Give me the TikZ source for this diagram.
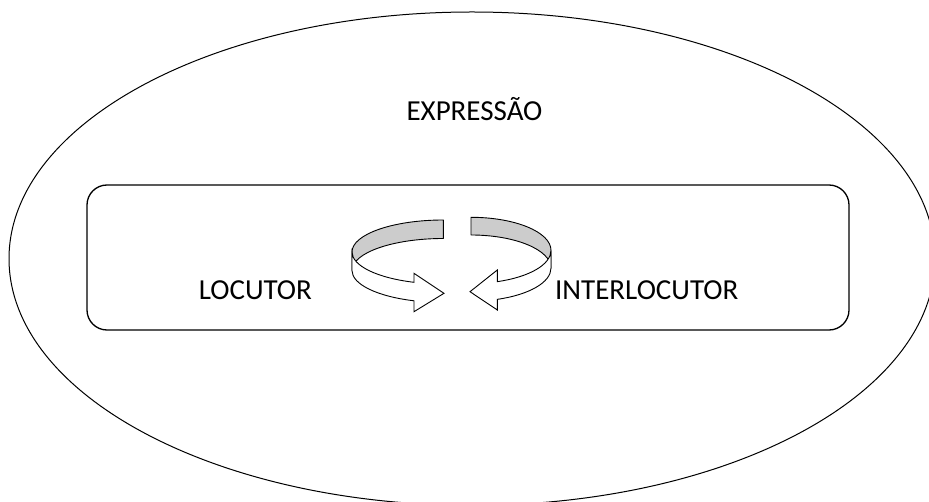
\documentclass[tikz,border=0pt]{standalone}
\usepackage{fontspec}
\setmainfont{Carlito}
\begin{document}
\begin{tikzpicture}[x=1pt,y=1pt,
  lbl/.style={anchor=base,inner sep=0pt,font=\fontsize{29}{33}\selectfont},
  ribbonback/.style={draw=black,fill=black!20,line width=0.9pt,line join=round},
  ribbonfront/.style={draw=black,fill=white,line width=0.9pt,line join=miter}]
\useasboundingbox (0,0) rectangle (929,501);
\clip (0,0) rectangle (929,501);
% outer ellipse
\draw[line width=1pt] (472,242.3) ellipse [x radius=463, y radius=246.7];
% inner rounded box
\draw[line width=1.3pt,rounded corners=20pt] (87,171) rectangle (849,316);
% left arrow: back (inner, grey) part
\draw[ribbonback] (443.3,281) arc[start angle=90,end angle=180,x radius=91.3,y radius=32]
  -- (352,230.5) arc[start angle=180,end angle=90,x radius=91.3,y radius=32] -- cycle;
% left arrow: front part with head
\draw[ribbonfront] (352,249) arc[start angle=180,end angle=251.3,x radius=91.3,y radius=32]
  -- (414,227.7) -- (444,207.7) -- (414,189.3) -- (414,200.2)
  arc[start angle=251.3,end angle=180,x radius=91.3,y radius=32] -- cycle;
% right arrow: back part
\draw[ribbonback] (471,283.7) arc[start angle=90,end angle=0,x radius=80,y radius=33.1]
  -- (551,232.9) arc[start angle=0,end angle=90,x radius=80,y radius=33.1] -- cycle;
% right arrow: front part with head
\draw[ribbonfront] (551,250.6) arc[start angle=360,end angle=289.2,x radius=80,y radius=33.1]
  -- (497.3,231) -- (470,209.3) -- (497.3,191) -- (497.3,201.65)
  arc[start angle=289.2,end angle=360,x radius=80,y radius=33.1] -- cycle;
% labels
\node[lbl] (expr) at (474.5,380) {EXPRESSÃO};
\node[lbl] (loc) at (255.4,201) {LOCUTOR};
\node[lbl] (inter) at (646.7,201) {INTERLOCUTOR};
\end{tikzpicture}
\end{document}
